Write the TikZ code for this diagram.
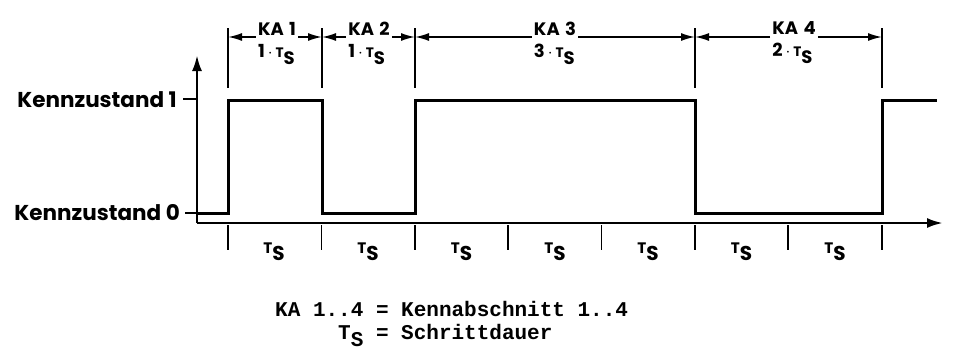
\documentclass[tikz,border=0pt]{standalone}
\usepackage{fontspec}
\usetikzlibrary{arrows.meta}
\newfontfamily\labfont{Poppins}
\newfontfamily\legfont{Liberation Mono}
\newcommand\myTS{\scalebox{0.76}{T}\raisebox{-7pt}{S}}
\begin{document}
\begin{tikzpicture}[x=1pt,y=-1pt,
  sig/.style={line width=3pt},
  ax/.style={line width=2.6pt},
  tk/.style={line width=1.7pt},
  dim/.style={line width=1.7pt},
  bigarr/.style={-{Latex[length=16pt,width=10pt]}},
  dimarr/.style={dim,-{Latex[length=14pt,width=8pt]}},
  lab/.style={font=\labfont\bfseries\fontsize{21.5}{21.5}\selectfont, inner sep=0pt},
  ka/.style={font=\labfont\bfseries\fontsize{18}{22}\selectfont, align=left, inner sep=2pt},
  tsl/.style={font=\labfont\bfseries\fontsize{20}{20}\selectfont, inner sep=0pt},
  leg/.style={font=\legfont\bfseries\fontsize{21}{21}\selectfont, inner sep=0pt},
]
\useasboundingbox (0,0) rectangle (953,362);
% axes
\coordinate (O) at (197,223);
\coordinate (Xend) at (943,223);
\coordinate (Yend) at (197,55);
\draw[ax,bigarr] (O) -- (Xend);
\draw[ax,bigarr] (O) -- (Yend);
% level ticks and labels
\draw[tk] (183,99) -- (197,99);
\draw[tk] (185,213) -- (197,213);
\node[lab,anchor=base east] (k1) at (177,107) {Kennzustand 1};
\node[lab,anchor=base east] (k0) at (180,220) {Kennzustand 0};
% signal
\draw[sig] (197,213) -- (228,213) -- (228,100) -- (322,100) -- (322,213)
  -- (415,213) -- (415,100) -- (695,100) -- (695,213) -- (882,213)
  -- (882,100) -- (937,100);
% step ticks
\foreach \x in {228,321.5,415,508,601.5,695,788,882}
  \draw[tk] (\x,225) -- (\x,250);
% step labels
\foreach \x [count=\i] in {274,368,461.5,555,648,741.5,835}
  \node[tsl,anchor=base] (ts\i) at (\x,253) {\myTS};
% dimension lines
\foreach \x/\n in {228/0,322/1,415/2,695/3,882/4} {
  \draw[dim] (\x,28) -- (\x,88);
  \coordinate (d\n) at (\x,37);
}
\node[ka] (ka1) at (277,43) {KA\hspace{0.3em}1\\1\,$\cdot$\,\myTS};
\node[ka] (ka2) at (369,43) {KA\hspace{0.3em}2\\1\,$\cdot$\,\myTS};
\node[ka] (ka3) at (555,43) {KA\hspace{0.3em}3\\3\,$\cdot$\,\myTS};
\node[ka] (ka4) at (794,43) {KA\hspace{0.3em}4\\2\,$\cdot$\,\myTS};
\draw[dimarr] (ka1.west |- d0) -- (d0);
\draw[dimarr] (ka1.east |- d1) -- (d1);
\draw[dimarr] (ka2.west |- d1) -- (d1);
\draw[dimarr] (ka2.east |- d2) -- (d2);
\draw[dimarr] (ka3.west |- d2) -- (d2);
\draw[dimarr] (ka3.east |- d3) -- (d3);
\draw[dimarr] (ka4.west |- d3) -- (d3);
\draw[dimarr] (ka4.east |- d4) -- (d4);
% legend
\node[leg,anchor=base west] (l1) at (275,316) {KA 1..4 = Kennabschnitt 1..4};
\node[leg,anchor=base west] (l2) at (338,339) {T\raisebox{-7pt}{S} = Schrittdauer};
\end{tikzpicture}
\end{document}
